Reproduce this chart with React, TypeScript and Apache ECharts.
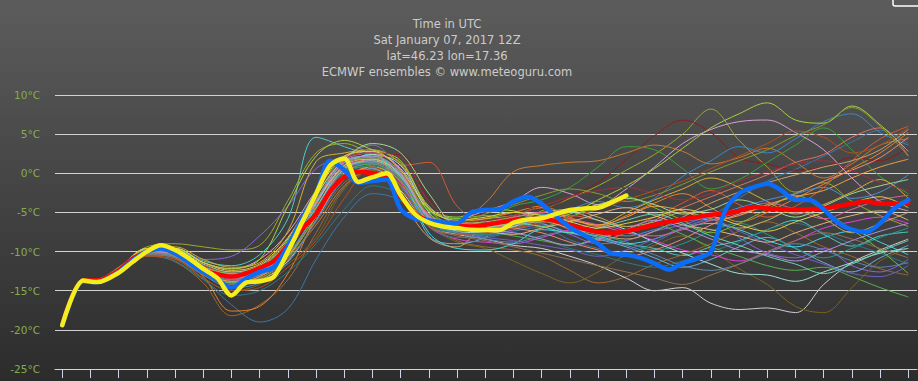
import React, { useEffect, useRef } from "react";
import * as echarts from "echarts";

const subtitleLines = [
  "Time in UTC",
  "Sat January 07, 2017 12Z",
  "lat=46.23 lon=17.36",
  "ECMWF ensembles © www.meteoguru.com",
];

const tickHours = [0, 12, 24, 36, 48, 60, 72, 84, 96, 108, 120, 132, 144, 156, 168, 180, 192, 204, 216, 228, 240, 252, 264, 276, 288, 300, 312, 324, 336, 348, 360];

const mainHours = [0, 9, 15, 24, 30, 36, 42, 48, 54, 60, 66, 72, 78, 84, 90, 96, 102, 108, 114, 120, 126, 132, 138, 144, 150, 156, 162, 168, 174, 180, 186, 192, 198, 204, 210, 216, 222, 228, 234, 240, 246, 252, 258, 264, 270, 276, 282, 288, 294, 300, 306, 312, 318, 324, 330, 336, 342, 348, 354, 360];

const ensembleMean = [-19.3, -13.7, -13.7, -12.4, -10.9, -10.0, -9.5, -10.2, -11.2, -12.3, -12.9, -13.2, -12.8, -12.1, -11.2, -9.2, -7.1, -5.2, -2.3, -0.5, 0.2, 0.0, -0.6, -2.9, -5.2, -6.1, -6.5, -6.7, -6.8, -6.6, -6.3, -6.0, -5.85, -5.8, -6.1, -6.6, -7.1, -7.5, -7.6, -7.4, -7.0, -6.6, -6.2, -5.9, -5.6, -5.3, -5.15, -4.8, -4.3, -4.5, -4.6, -4.7, -4.6, -4.5, -4.2, -3.9, -3.6, -3.9, -3.9, -3.8];

const controlRun = [-19.4, -13.8, -13.9, -12.6, -11.1, -10.0, -9.6, -10.2, -11.4, -12.6, -13.6, -14.6, -13.5, -12.6, -12.0, -9.3, -5.8, -2.6, 1.6, 0.4, -1.2, -1.0, -0.8, -4.6, -5.8, -6.0, -6.3, -6.35, -5.0, -4.7, -4.6, -3.6, -3.0, -3.9, -5.5, -6.9, -7.9, -9.0, -10.3, -10.4, -10.8, -11.5, -12.3, -11.5, -10.9, -10.0, -4.8, -2.6, -1.8, -1.35, -2.2, -3.4, -3.4, -4.6, -6.3, -7.2, -7.5, -6.4, -4.5, -3.4];

const hresRun = [-19.4, -13.7, -13.9, -12.7, -11.3, -10.0, -9.2, -9.8, -10.9, -12.2, -13.4, -15.6, -14.0, -13.8, -13.2, -10.0, -6.3, -2.6, 1.0, 1.9, -1.1, -0.5, 0.0, -2.8, -5.2, -6.3, -6.8, -7.0, -7.2, -7.25, -7.25, -6.3, -5.9, -5.75, -5.2, -4.7, -4.5, -4.4, -3.7, -2.85];

const memberHours = [0, 9, 15, 24, 36, 48, 60, 72, 84, 96, 108, 120, 132, 144, 156, 168, 180, 192, 204, 216, 228, 240, 252, 264, 276, 288, 300, 312, 324, 336, 348, 360];

const m01 = [-19.5, -13.9, -13.9, -12.6, -10.3, -10.8, -13.5, -16.8, -19.0, -17.3, -11.0, -5.6, -2.6, -3.5, -6.8, -7.6, -8.2, -7.4, -6.9, -8.5, -9.6, -10.2, -8.8, -7.0, -5.5, -3.2, -1.0, 0.5, 2.2, 4.0, 5.5, 3.8];
const m02 = [-19.4, -13.8, -13.7, -12.3, -9.8, -9.6, -11.2, -11.8, -10.4, -5.8, 4.6, 3.4, 2.0, -0.5, -5.5, -7.2, -6.6, -6.0, -5.2, -6.8, -8.2, -9.0, -9.6, -10.5, -9.4, -8.6, -7.2, -6.0, -7.8, -9.3, -8.0, -7.5];
const m03 = [-19.5, -13.9, -14.0, -12.7, -10.5, -11.3, -14.0, -18.2, -16.8, -13.6, -7.6, -1.8, 0.6, -1.2, -6.4, -8.6, -9.4, -9.8, -10.6, -12.4, -14.0, -13.2, -11.6, -10.4, -9.0, -7.4, -6.2, -7.6, -9.4, -10.6, -12.2, -13.0];
const m04 = [-19.4, -13.8, -13.8, -12.5, -10.2, -10.6, -13.2, -17.6, -17.0, -12.8, -5.4, 0.8, 1.6, -0.8, -5.2, -6.4, -5.8, -5.0, -4.2, -5.6, -6.8, -5.4, -3.8, -2.6, -4.4, -6.2, -5.0, -3.2, -1.4, 0.6, 2.6, 5.2];
const m05 = [-19.3, -13.6, -13.5, -12.0, -9.4, -9.0, -9.4, -9.8, -9.2, -3.5, 2.6, 3.8, 2.4, 1.4, -4.6, -6.8, -7.0, -6.4, -4.8, -3.2, -1.6, 0.4, 2.4, 5.0, 8.2, 4.2, 0.8, -2.4, -1.2, -3.6, -5.4, -6.8];
const m06 = [-19.4, -13.7, -13.6, -12.2, -9.8, -9.8, -11.0, -10.6, -8.0, -4.2, 0.6, 2.2, 3.6, 0.2, -5.8, -7.4, -8.0, -7.2, -6.6, -7.8, -9.0, -8.6, -7.4, -6.6, -5.6, -8.2, -10.2, -10.8, -9.6, -11.8, -12.6, -11.0];
const m07 = [-19.5, -13.8, -13.8, -12.5, -10.0, -9.8, -11.6, -12.4, -11.2, -8.0, -2.8, 1.2, 1.8, 2.4, -3.2, -6.0, -5.0, -4.0, -4.6, -3.0, -1.2, 1.8, 4.8, 6.8, 5.2, 2.0, 1.2, 0.4, 0.8, 2.0, 1.6, 3.4];
const m08 = [-19.4, -13.9, -13.9, -12.6, -10.4, -10.2, -12.4, -13.6, -12.8, -9.8, -4.2, 0.2, 1.2, 1.0, 1.4, -4.2, -6.6, -7.0, -6.2, -5.4, -6.0, -6.8, -5.6, -3.8, -2.2, -4.0, -5.6, -4.2, -1.8, 1.6, 4.4, 6.0];
const m09 = [-19.4, -13.8, -13.8, -12.4, -10.0, -10.4, -12.6, -13.8, -13.4, -10.8, -6.6, -1.6, 0.4, -1.4, -6.4, -6.2, -3.8, 0.2, 1.0, 1.4, 1.6, 2.6, 3.6, 2.8, 1.2, 2.0, 3.2, 1.4, -0.6, 1.2, 3.6, 4.4];
const m10 = [-19.5, -13.7, -13.7, -12.3, -9.8, -10.0, -12.0, -13.0, -12.2, -9.4, -4.6, 0.4, 0.8, -0.6, -4.8, -6.8, -6.0, -4.2, -3.4, -1.8, 0.8, 3.4, 3.0, 0.6, -2.0, -0.8, 1.4, 3.6, 5.8, 3.0, -0.4, -2.6];
const m11 = [-19.4, -13.8, -13.8, -12.5, -10.1, -10.4, -12.6, -14.0, -13.6, -11.2, -6.0, -0.4, 0.6, -2.2, -6.8, -7.8, -8.4, -9.2, -9.6, -10.6, -11.8, -13.4, -15.0, -14.6, -16.6, -17.4, -17.2, -17.8, -14.2, -11.4, -9.8, -8.4];
const m12 = [-19.5, -13.9, -14.0, -12.8, -10.6, -11.0, -13.4, -15.0, -14.2, -11.6, -8.2, -2.0, 0.4, -1.8, -6.6, -8.8, -9.6, -11.2, -12.8, -14.0, -12.6, -10.4, -9.2, -8.0, -9.8, -12.2, -14.2, -17.0, -17.8, -14.6, -11.2, -9.6];
const m13 = [-19.4, -13.7, -13.6, -12.2, -9.6, -9.6, -11.4, -12.2, -11.0, -7.6, -2.2, 1.8, 2.6, 0.6, -4.4, -5.8, -4.8, -3.6, -1.8, -2.6, -4.0, -2.0, 0.8, 3.8, 5.6, 6.6, 6.8, 5.2, 3.0, -0.6, -3.6, -4.8];
const m14 = [-19.4, -13.8, -13.7, -12.4, -10.0, -10.2, -12.2, -13.0, -12.6, -9.0, -3.8, 0.6, 1.2, -1.6, -6.0, -7.2, -7.0, -6.2, -5.4, -4.6, -3.6, -4.4, -3.2, -0.4, 1.6, 3.4, 2.6, 4.4, 6.6, 7.6, 5.2, 3.6];
const m15 = [-19.5, -13.9, -13.9, -12.6, -10.2, -10.6, -12.8, -14.2, -13.2, -10.6, -5.0, 0.6, 1.4, -0.6, -6.2, -7.2, -6.8, -6.8, -6.0, -7.2, -8.6, -7.6, -6.0, -4.4, -3.0, -1.6, -0.2, 1.4, 2.4, 4.6, 5.8, 2.2];
const m16 = [-19.4, -13.7, -13.7, -12.4, -10.0, -10.0, -11.8, -12.8, -12.0, -8.8, -3.4, 1.6, 2.2, 0.0, -8.0, -9.0, -8.2, -5.8, -6.4, -7.6, -8.4, -9.4, -10.8, -12.0, -11.0, -9.4, -8.2, -9.6, -11.4, -12.6, -10.8, -9.2];
const m17 = [-19.5, -13.8, -13.9, -12.6, -10.4, -10.8, -12.8, -13.8, -12.6, -9.4, -4.4, 0.8, 1.6, -1.2, -6.8, -8.4, -8.8, -9.0, -8.2, -7.2, -6.6, -7.4, -8.6, -9.8, -10.4, -11.2, -10.0, -8.6, -7.0, -6.2, -5.6, -6.4];
const m18 = [-19.4, -13.6, -13.6, -12.2, -9.6, -9.4, -11.0, -12.0, -11.4, -7.4, 1.5, 2.6, 3.0, 1.2, -4.2, -6.2, -5.8, -5.4, -4.4, -5.8, -6.6, -5.0, -3.4, -2.0, -0.6, -1.8, -3.6, -5.2, -4.0, -2.4, -0.8, -3.2];
const m19 = [-19.4, -13.8, -13.8, -12.5, -10.2, -10.4, -12.6, -13.6, -13.0, -10.2, -5.2, -0.2, 1.0, -1.6, -6.4, -7.6, -7.8, -7.0, -6.2, -6.8, -7.8, -8.8, -9.8, -9.0, -7.4, -6.4, -7.8, -9.6, -10.8, -9.6, -8.2, -7.0];
const m20 = [-19.3, -13.6, -13.6, -12.1, -9.6, -9.6, -11.4, -12.2, -11.0, -4.2, 2.2, 4.2, 3.0, 1.6, -4.4, -5.6, -4.6, -4.8, -5.8, -5.2, -3.4, -1.6, 0.6, 3.2, 5.8, 7.6, 9.0, 6.8, 6.4, 8.6, 6.2, 2.8];
const m21 = [-19.4, -13.8, -13.8, -12.4, -10.0, -10.2, -12.2, -13.4, -13.0, -10.4, -5.0, 0.4, 1.8, 0.0, -5.6, -6.6, -6.4, -7.0, -7.6, -8.8, -9.8, -10.6, -9.8, -8.4, -6.6, -5.2, -4.2, -2.6, -1.0, 0.4, 2.0, 4.6];
const m22 = [-19.5, -13.9, -13.9, -12.6, -10.2, -10.4, -12.4, -13.2, -12.4, -9.8, -4.0, 1.4, 2.0, -0.4, -7.6, -9.6, -9.8, -9.0, -7.2, -7.6, -8.0, -9.0, -8.4, -7.0, -6.4, -7.2, -8.6, -9.4, -8.2, -7.4, -8.8, -10.4];
const m23 = [-19.4, -13.7, -13.7, -12.3, -9.8, -10.0, -12.0, -13.0, -12.4, -9.6, -4.4, 0.8, 1.4, -0.6, -5.4, -6.4, -6.2, -5.6, -5.0, -4.6, -5.6, -6.8, -6.2, -5.0, -5.8, -7.0, -6.0, -4.6, -5.8, -7.6, -6.4, -5.0];
const m24 = [-19.5, -13.9, -14.0, -12.7, -10.6, -11.2, -13.6, -15.6, -15.0, -12.6, -9.0, -4.6, -1.6, -2.8, -6.8, -8.2, -8.0, -7.6, -8.4, -9.6, -10.4, -11.4, -12.0, -11.2, -10.0, -8.8, -7.2, -6.4, -7.6, -9.0, -10.2, -11.6];
const m25 = [-19.4, -13.8, -13.8, -12.4, -10.0, -10.2, -12.0, -12.8, -12.2, -9.0, -3.6, 1.0, 2.4, 1.0, -5.0, -7.4, -7.6, -6.8, -5.6, -5.0, -6.0, -7.2, -8.8, -10.2, -11.6, -12.8, -13.0, -13.8, -12.6, -11.4, -10.2, -9.6];
const m26 = [-19.4, -13.7, -13.7, -12.3, -9.8, -9.8, -11.8, -12.8, -12.2, -8.6, -2.6, 1.6, 1.8, -0.4, -4.8, -5.8, -5.4, -6.0, -6.8, -5.6, -4.2, -3.0, -4.4, -6.0, -7.6, -6.4, -4.6, -2.8, -4.8, -7.2, -9.8, -12.8];
const m27 = [-19.5, -13.8, -13.9, -12.5, -10.2, -10.6, -12.6, -13.8, -13.2, -10.6, -5.6, -0.6, 0.8, -1.0, -6.2, -7.0, -6.8, -6.4, -5.8, -6.0, -6.6, -5.6, -4.2, -4.8, -6.0, -5.4, -4.0, -3.0, -2.2, -0.6, 0.8, 1.8];
const m28 = [-19.4, -13.8, -13.8, -12.4, -10.0, -10.4, -12.4, -13.4, -12.8, -9.6, -4.4, 0.2, 1.2, -0.8, -5.8, -7.6, -8.2, -8.6, -9.2, -9.8, -10.6, -9.8, -8.4, -7.0, -6.0, -7.4, -9.0, -10.4, -11.6, -12.8, -13.2, -11.8];
const m29 = [-19.5, -13.8, -13.8, -12.5, -10.2, -10.2, -12.0, -13.0, -12.4, -9.2, -3.6, 1.6, 2.6, 0.4, -5.4, -6.6, -6.4, -5.6, -5.0, -5.8, -6.6, -7.6, -8.0, -7.2, -6.0, -5.0, -3.8, -4.6, -5.8, -4.6, -3.4, -2.8];
const m30 = [-19.4, -13.7, -13.7, -12.3, -9.8, -10.0, -11.8, -12.6, -11.8, -8.8, -3.0, 2.0, 2.8, -3.0, -8.2, -9.4, -6.8, -6.6, -6.2, -7.0, -7.8, -8.4, -7.4, -5.6, -3.8, -2.4, -1.2, -0.2, 0.8, 1.6, 3.0, 5.6];
const m31 = [-19.4, -13.8, -13.9, -12.6, -10.4, -10.8, -13.0, -14.6, -14.0, -11.4, -6.0, -0.8, 0.6, -1.6, -6.2, -7.4, -7.2, -6.6, -6.0, -6.6, -7.4, -8.0, -7.2, -6.2, -5.6, -4.4, -3.4, -2.6, -1.8, -3.2, -2.4, -0.2];
const m32 = [-19.5, -13.9, -13.9, -12.6, -10.2, -10.4, -12.2, -13.0, -12.2, -9.0, -3.4, 1.2, 2.0, 0.2, -5.2, -6.2, -5.2, -4.0, -2.8, -2.0, -2.6, -3.6, -2.8, -1.4, 0.2, 1.6, 3.0, 4.8, 6.2, 8.4, 6.0, 2.2];
const m33 = [-19.4, -13.8, -13.8, -12.5, -10.2, -10.6, -12.8, -14.0, -13.4, -10.8, -5.4, 0.0, 1.2, -1.0, -6.0, -7.2, -7.4, -8.0, -8.6, -9.2, -8.2, -7.2, -6.6, -7.8, -9.4, -10.6, -11.8, -12.4, -12.0, -13.2, -14.6, -15.8];
const m34 = [-19.4, -13.7, -13.7, -12.4, -10.0, -10.2, -12.2, -13.2, -12.6, -9.4, -3.8, 1.0, 1.8, -0.2, -5.6, -7.0, -7.4, -7.8, -7.0, -6.2, -5.2, -4.4, -5.4, -6.6, -7.2, -8.0, -8.8, -7.6, -6.4, -5.4, -4.8, -6.0];
const m35 = [-19.5, -13.9, -13.9, -12.6, -10.2, -10.6, -12.6, -13.6, -13.0, -10.4, -5.0, 0.4, 1.4, -0.6, -6.0, -7.6, -8.4, -8.8, -8.0, -7.4, -8.2, -9.2, -10.4, -11.8, -12.4, -11.6, -10.2, -9.0, -9.8, -11.2, -12.0, -11.4];
const m36 = [-19.4, -13.8, -13.8, -12.4, -10.0, -10.0, -11.8, -12.6, -11.8, -8.4, -2.4, 1.8, 2.6, 2.0, -3.6, -6.2, -6.0, -5.4, -4.2, -3.0, -2.2, -1.8, -2.6, -3.4, -2.6, -1.0, 0.2, 1.2, 1.6, 0.4, -1.2, -2.2];
const m37 = [-19.4, -13.7, -13.7, -12.3, -9.8, -10.0, -12.0, -13.0, -12.6, -9.8, -4.4, 0.6, 1.6, -0.4, -5.8, -7.2, -7.0, -6.4, -6.8, -7.6, -7.0, -6.0, -5.2, -6.4, -8.0, -9.2, -10.6, -11.6, -12.8, -11.6, -10.0, -8.6];
const m38 = [-19.5, -13.9, -14.0, -12.7, -10.6, -11.0, -13.4, -15.0, -14.6, -12.0, -8.6, -3.2, 0.8, -1.8, -6.6, -7.8, -7.6, -7.0, -6.4, -5.6, -4.6, -3.4, -2.2, -1.0, 0.6, 2.2, 3.8, 5.4, 4.6, 2.6, 3.6, 5.8];
const m39 = [-19.4, -13.8, -13.8, -12.4, -10.0, -10.2, -12.4, -13.4, -12.6, -9.2, -3.6, 1.4, 2.2, -0.2, -5.6, -6.8, -7.2, -7.6, -8.4, -9.2, -8.4, -7.2, -6.0, -7.0, -8.4, -9.8, -10.4, -11.2, -10.0, -8.6, -7.4, -6.4];
const m40 = [-19.4, -13.7, -13.6, -12.2, -9.6, -9.6, -11.4, -12.4, -11.6, -8.2, -2.4, 2.2, 2.8, 0.4, -4.6, -6.0, -5.6, -5.0, -5.4, -6.2, -7.0, -6.4, -5.6, -4.6, -5.4, -6.6, -7.4, -6.2, -5.0, -3.8, -3.0, -4.4];
const m41 = [-19.5, -13.9, -13.9, -12.6, -10.4, -10.8, -13.0, -14.2, -13.6, -11.0, -6.2, -1.2, 0.2, -2.0, -6.8, -8.0, -8.6, -9.4, -10.2, -11.0, -11.8, -12.6, -13.4, -14.2, -13.0, -11.6, -10.0, -8.6, -7.6, -8.4, -9.6, -10.8];
const m42 = [-19.4, -13.7, -13.7, -12.3, -9.8, -9.8, -11.6, -12.6, -11.8, -8.4, -2.8, 1.8, 3.8, 2.6, -2.6, -6.6, -6.8, -6.2, -5.6, -5.0, -4.0, -3.2, -4.0, -5.2, -4.6, -3.4, -4.4, -5.6, -4.2, -2.6, -1.6, -0.8];

const members = [m01, m02, m03, m04, m05, m06, m07, m08, m09, m10, m11, m12, m13, m14, m15, m16, m17, m18, m19, m20, m21, m22, m23, m24, m25, m26, m27, m28, m29, m30, m31, m32, m33, m34, m35, m36, m37, m38, m39, m40, m41, m42];

const memberColors = [
  "#3a78a8", "#4ecdc4", "#9a6a30", "#e8822a", "#9aaa2a", "#8866dd", "#8b1c1c", "#d85a32",
  "#c87a30", "#3aa03a", "#cfcfcf", "#7a6420", "#d8a0d8", "#3a88c8", "#e07060", "#6ab0e0",
  "#e040e0", "#d4b030", "#2a9a8a", "#a8d040", "#f08a70", "#40d8e0", "#b8b060", "#2a7a8a",
  "#a0e0d8", "#70c030", "#f0a040", "#7060c0", "#e06090", "#c8a070", "#4a90e0", "#8a9a30",
  "#58b050", "#e8b080", "#5a8ab0", "#a03040", "#6ad0b0", "#b05020", "#b090e0", "#e0d040",
  "#907050", "#a0d890",
];

export default function App() {
  const ref = useRef<HTMLDivElement>(null);

  useEffect(() => {
    if (!ref.current) return;
    const chart = echarts.init(ref.current, null, { renderer: "svg" });

    const memberSeries = members.map((vals, i) => ({
      type: "line",
      name: `member ${i + 1}`,
      data: memberHours.map((h, j) => [h, vals[j]]),
      smooth: 0.35,
      symbol: "none",
      silent: true,
      lineStyle: { width: 1, color: memberColors[i % memberColors.length] },
      z: 2,
    }));

    const mainSeries = [
      { name: "mean", data: ensembleMean, color: "#ff0000", z: 3 },
      { name: "control", data: controlRun, color: "#0a6cf8", z: 4 },
      { name: "hres", data: hresRun, color: "#f6ee1c", z: 5 },
    ].map((s) => ({
      type: "line",
      name: s.name,
      data: s.data.map((v, j) => [mainHours[j], v]),
      smooth: 0.3,
      symbol: "none",
      silent: true,
      lineStyle: { width: 4.5, color: s.color, cap: "round", join: "round" },
      z: s.z,
    }));

    chart.setOption({
      animation: false,
      backgroundColor: "transparent",
      grid: { left: 55, right: 1, top: 95, height: 274, containLabel: false },
      xAxis: {
        type: "value",
        min: -3.1,
        max: 363.7,
        axisLine: { show: true, onZero: false, lineStyle: { color: "#ccd6eb", width: 1 } },
        axisTick: {
          show: true,
          customValues: tickHours,
          length: 9,
          lineStyle: { color: "#ccd6eb", width: 1 },
        },
        axisLabel: { show: false },
        splitLine: { show: false },
      },
      yAxis: {
        type: "value",
        min: -25,
        max: 10,
        interval: 5,
        axisLine: { show: false },
        axisTick: { show: false },
        axisLabel: {
          formatter: (v: number) => `${v}°C`,
          color: "#86ad4c",
          fontSize: 10.5,
          fontFamily: "DejaVu Sans",
          margin: 15,
        },
        splitLine: { lineStyle: { color: "#d2d2d2", width: 1 } },
      },
      graphic: [
        ...subtitleLines.map((t, i) => ({
          type: "text",
          x: 447,
          y: 24 + i * 16,
          silent: true,
          style: {
            text: t,
            fill: "#cccccc",
            font: "11.5px 'DejaVu Sans'",
            textAlign: "center",
            textVerticalAlign: "middle",
          },
        })),
        {
          type: "rect",
          shape: { x: 893, y: -12, width: 40, height: 18, r: 2 },
          silent: true,
          style: { fill: "none", stroke: "#ffffff", lineWidth: 1.5 },
        },
      ],
      series: [...memberSeries, ...mainSeries],
    });

    return () => chart.dispose();
  }, []);

  return (
    <div
      ref={ref}
      style={{
        position: "absolute",
        left: 0,
        top: 0,
        width: 918,
        height: 381,
        background: "linear-gradient(to bottom, #5c5c5c 0%, #2c2c2c 100%)",
      }}
    />
  );
}
